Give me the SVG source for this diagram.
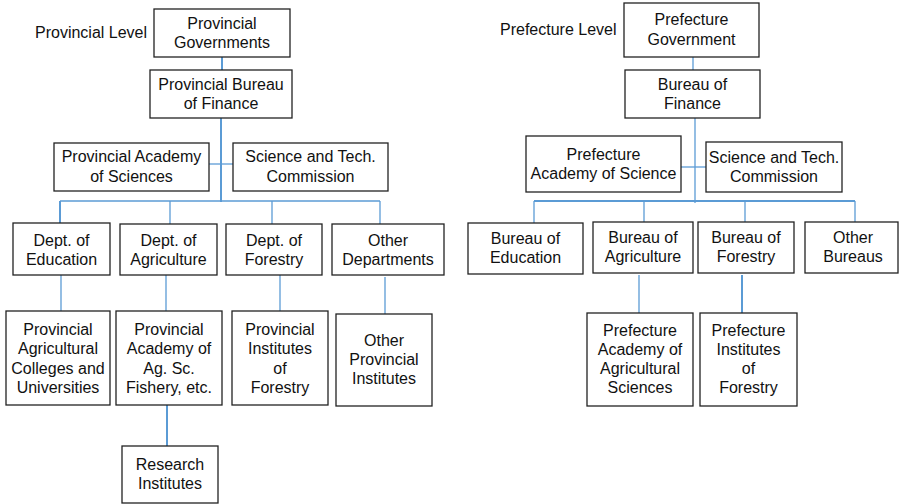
<svg xmlns="http://www.w3.org/2000/svg" width="900" height="504" viewBox="0 0 900 504">
  <style>
    .box { fill: #fff; stroke: #222; stroke-width: 1.3; }
    .shadow { fill: none; stroke: #b0b0b0; stroke-width: 1; }
    text { font-family: "Liberation Sans", Arial, sans-serif; font-size: 16px; fill: #111; text-anchor: middle; }
    .lvl { text-anchor: start; }
    .ln { stroke: #5b9bd5; stroke-width: 1.3; fill: none; }
    .lnb { stroke: #5b9bd5; stroke-width: 2; fill: none; }
  </style>

  <!-- connectors -->
  <g id="connectors">
    <!-- provincial tree -->
    <line class="lnb" x1="222" y1="57" x2="222" y2="70"/>
    <line class="lnb" x1="221" y1="118" x2="221" y2="202"/>
    <line class="ln" x1="209" y1="164" x2="233" y2="164"/>
    <line class="ln" x1="60" y1="201" x2="380" y2="201"/>
    <line class="lnb" x1="60" y1="201" x2="60" y2="223"/>
    <line class="ln" x1="170" y1="201" x2="170" y2="224"/>
    <line class="ln" x1="272" y1="201" x2="272" y2="224"/>
    <line class="ln" x1="380" y1="201" x2="380" y2="224"/>
    <line class="ln" x1="61" y1="275" x2="61" y2="311"/>
    <line class="ln" x1="166" y1="275" x2="166" y2="311"/>
    <line class="ln" x1="280" y1="275" x2="280" y2="311"/>
    <line class="ln" x1="385" y1="277" x2="385" y2="314"/>
    <line class="lnb" x1="167" y1="405" x2="167" y2="446"/>
    <!-- prefecture tree -->
    <line class="ln" x1="693" y1="57" x2="693" y2="70"/>
    <line class="ln" x1="695" y1="118" x2="695" y2="203"/>
    <line class="ln" x1="681" y1="167" x2="706" y2="167"/>
    <line class="lnb" x1="534" y1="201" x2="855" y2="201"/>
    <line class="ln" x1="534" y1="201" x2="534" y2="223"/>
    <line class="ln" x1="644" y1="201" x2="644" y2="222"/>
    <line class="ln" x1="745" y1="201" x2="745" y2="223"/>
    <line class="ln" x1="855" y1="201" x2="855" y2="222"/>
    <line class="ln" x1="639" y1="275" x2="639" y2="313"/>
    <line class="lnb" x1="742" y1="275" x2="742" y2="313"/>
  </g>

  <!-- level labels -->
  <text class="lvl" x="35" y="38">Provincial Level</text>
  <text class="lvl" x="500" y="35">Prefecture Level</text>

  <!-- provincial nodes -->
  <g id="prov-gov">
    <rect class="box" x="154" y="9" width="136" height="48"/>
    <text x="222" y="29">Provincial</text>
    <text x="222" y="48">Governments</text>
  </g>
  <g id="prov-finance">
    <rect class="box" x="150" y="70" width="142" height="48"/>
    <text x="221" y="90">Provincial Bureau</text>
    <text x="221" y="109">of Finance</text>
  </g>
  <g id="prov-academy">
    <rect class="box" x="54" y="143" width="155" height="48"/>
    <text x="131.5" y="162">Provincial Academy</text>
    <text x="131.5" y="182">of Sciences</text>
  </g>
  <g id="prov-stc">
    <rect class="box" x="233" y="143" width="155" height="48"/>
    <text x="310.5" y="162">Science and Tech.</text>
    <text x="310.5" y="182">Commission</text>
  </g>
  <g id="dept-edu">
    <rect class="box" x="13" y="223" width="97" height="52"/>
    <text x="61.5" y="245.5">Dept. of</text>
    <text x="61.5" y="264.5">Education</text>
  </g>
  <g id="dept-agr">
    <rect class="box" x="120" y="224" width="97" height="51"/>
    <text x="168.5" y="245.5">Dept. of</text>
    <text x="168.5" y="264.5">Agriculture</text>
  </g>
  <g id="dept-for">
    <rect class="box" x="226" y="224" width="96" height="51"/>
    <text x="274" y="245.5">Dept. of</text>
    <text x="274" y="264.5">Forestry</text>
  </g>
  <g id="dept-other">
    <rect class="box" x="332" y="224" width="112" height="51"/>
    <text x="388" y="245.5">Other</text>
    <text x="388" y="264.5">Departments</text>
  </g>
  <g id="prov-colleges">
    <rect class="box" x="6" y="311" width="104" height="94"/>
    <text x="58" y="335">Provincial</text>
    <text x="58" y="354.3">Agricultural</text>
    <text x="58" y="373.6">Colleges and</text>
    <text x="58" y="392.9">Universities</text>
  </g>
  <g id="prov-agsc">
    <rect class="box" x="116" y="311" width="106" height="94"/>
    <text x="169" y="335">Provincial</text>
    <text x="169" y="354.3">Academy of</text>
    <text x="169" y="373.6">Ag. Sc.</text>
    <text x="169" y="392.9">Fishery, etc.</text>
  </g>
  <g id="prov-forestry">
    <rect class="box" x="232" y="311" width="96" height="94"/>
    <text x="280" y="335">Provincial</text>
    <text x="280" y="354.3">Institutes</text>
    <text x="280" y="373.6">of</text>
    <text x="280" y="392.9">Forestry</text>
  </g>
  <g id="prov-other">
    <rect class="box" x="336" y="314" width="96" height="92"/>
    <text x="384" y="346">Other</text>
    <text x="384" y="365">Provincial</text>
    <text x="384" y="384">Institutes</text>
  </g>
  <g id="research">
    <rect class="box" x="122" y="446" width="96" height="57"/>
    <text x="170" y="470">Research</text>
    <text x="170" y="489">Institutes</text>
  </g>

  <!-- prefecture nodes -->
  <g id="pref-gov">
    <rect class="box" x="624" y="3" width="135" height="54"/>
    <text x="691.5" y="25">Prefecture</text>
    <text x="691.5" y="44.5">Government</text>
  </g>
  <g id="pref-finance">
    <rect class="box" x="625" y="70" width="135" height="48"/>
    <text x="692.5" y="90">Bureau of</text>
    <text x="692.5" y="109">Finance</text>
  </g>
  <g id="pref-academy">
    <rect class="box" x="526" y="136" width="155" height="56"/>
    <text x="603.5" y="160">Prefecture</text>
    <text x="603.5" y="179">Academy of Science</text>
  </g>
  <g id="pref-stc">
    <rect class="box" x="706" y="142" width="136" height="50"/>
    <text x="774" y="163">Science and Tech.</text>
    <text x="774" y="182">Commission</text>
  </g>
  <g id="bur-edu">
    <rect class="box" x="468" y="223" width="115" height="51"/>
    <text x="525.5" y="244">Bureau of</text>
    <text x="525.5" y="263">Education</text>
  </g>
  <g id="bur-agr">
    <rect class="box" x="593" y="222" width="100" height="51"/>
    <text x="643" y="242.7">Bureau of</text>
    <text x="643" y="261.7">Agriculture</text>
  </g>
  <g id="bur-for">
    <rect class="box" x="698" y="222" width="96" height="51"/>
    <text x="746" y="242.7">Bureau of</text>
    <text x="746" y="261.7">Forestry</text>
  </g>
  <g id="bur-other">
    <rect class="box" x="805" y="222" width="93" height="51"/>
    <text x="853" y="242.7">Other</text>
    <text x="853" y="261.7">Bureaus</text>
  </g>
  <g id="pref-agsc">
    <rect class="box" x="587" y="313" width="106" height="93"/>
    <text x="640" y="335.5">Prefecture</text>
    <text x="640" y="354.8">Academy of</text>
    <text x="640" y="374.1">Agricultural</text>
    <text x="640" y="393.4">Sciences</text>
  </g>
  <g id="pref-forestry">
    <rect class="box" x="700" y="313" width="97" height="93"/>
    <text x="748.5" y="335.5">Prefecture</text>
    <text x="748.5" y="354.8">Institutes</text>
    <text x="748.5" y="374.1">of</text>
    <text x="748.5" y="393.4">Forestry</text>
  </g>
</svg>
